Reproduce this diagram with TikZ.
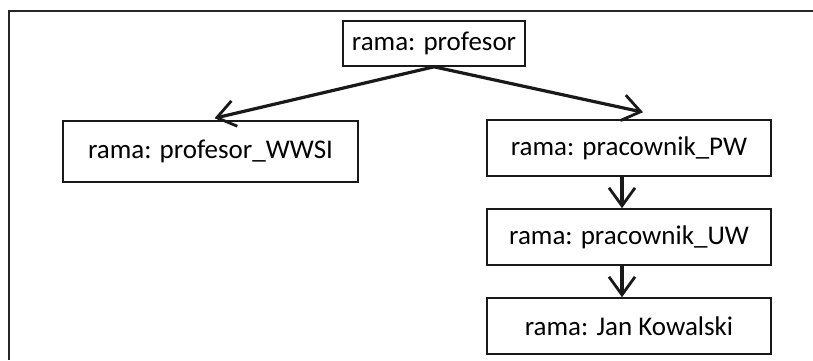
\documentclass[tikz,border=0pt]{standalone}
\usepackage{fontspec}
\setmainfont{Carlito}
\usetikzlibrary{arrows.meta}
\begin{document}
\begin{tikzpicture}[x=1pt,y=-1pt,
  box/.style={draw=black!90, line width=1.6pt, inner sep=0pt, font=\fontsize{27}{32}\selectfont},
  arr/.style={line width=3.2pt, draw=black!90, -{Straight Barb[length=18pt,width=26pt,line width=2.8pt]}}]
\useasboundingbox (0,0) rectangle (813,360);
\draw[line width=2pt, black!85] (813,11) -- (9,11) -- (9,360);
\node[box, minimum width=182pt, minimum height=45pt] (p) at (434,43.5) {rama: profesor};
\node[box, minimum width=295pt, minimum height=61pt] (w) at (210.5,151.5) {rama: profesor\_WWSI};
\node[box, minimum width=284pt, minimum height=56pt] (pw) at (629,148) {rama: pracownik\_PW};
\node[box, minimum width=284pt, minimum height=56pt] (uw) at (629,237) {rama: pracownik\_UW};
\node[box, minimum width=284pt, minimum height=56pt] (jk) at (629,326) {rama: Jan Kowalski};
\draw[arr] (p.south) -- ([xshift=4pt,yshift=2pt]w.north);
\draw[arr] (p.south) -- ([xshift=14pt,yshift=7pt]pw.north);
\draw[arr] ([xshift=-7pt]pw.south) -- ([xshift=-7pt]uw.north);
\draw[arr] ([xshift=-7pt]uw.south) -- ([xshift=-7pt]jk.north);
\end{tikzpicture}
\end{document}
